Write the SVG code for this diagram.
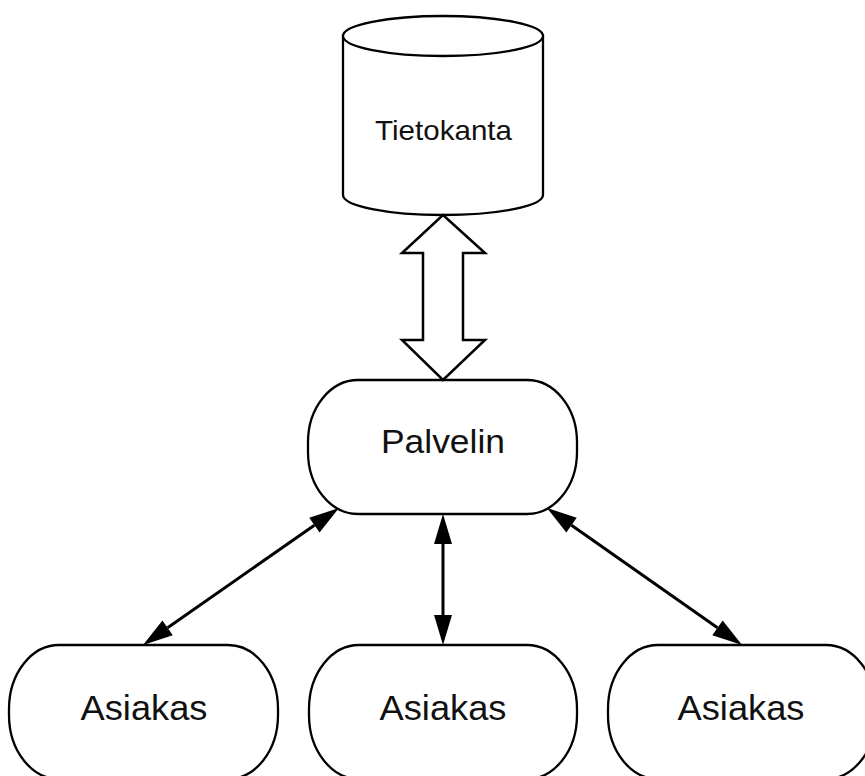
<svg xmlns="http://www.w3.org/2000/svg" width="865" height="776" viewBox="0 0 865 776">
  <style>
    .node { fill: #ffffff; stroke: #000000; stroke-width: 2.3; }
    .label { font-family: "Liberation Sans", Arial, sans-serif; fill: #111111; text-anchor: middle; }
    .link { stroke: #000000; stroke-width: 3; fill: none; marker-start: url(#head); marker-end: url(#head); }
    .bigarrow { fill: #ffffff; stroke: #000000; stroke-width: 2.5; stroke-linejoin: miter; }
  </style>
  <defs>
    <marker id="head" markerUnits="userSpaceOnUse" markerWidth="30" markerHeight="18" refX="0" refY="9" orient="auto-start-reverse" overflow="visible">
      <path d="M0,0 L30,9 L0,18 Z" fill="#000000"/>
    </marker>
  </defs>
  <rect width="865" height="776" fill="#ffffff"/>

  <!-- database -->
  <g id="tietokanta">
    <path class="node" d="M343,36 L343,195 A100,20 0 0 0 543,195 L543,36 Z"/>
    <ellipse class="node" cx="443" cy="36" rx="100" ry="20"/>
    <text class="label" x="443.5" y="140" font-size="28" textLength="137" lengthAdjust="spacingAndGlyphs">Tietokanta</text>
  </g>

  <!-- server -->
  <g id="palvelin">
    <rect class="node" x="308" y="380" width="269" height="134" rx="50" ry="62"/>
    <text class="label" x="443" y="453" font-size="33" textLength="124" lengthAdjust="spacingAndGlyphs">Palvelin</text>
  </g>

  <!-- clients -->
  <g id="asiakas-1">
    <rect class="node" x="9" y="645" width="269" height="134" rx="50" ry="64"/>
    <text class="label" x="144" y="720" font-size="35" textLength="127" lengthAdjust="spacingAndGlyphs">Asiakas</text>
  </g>
  <g id="asiakas-2">
    <rect class="node" x="309" y="645" width="268" height="134" rx="50" ry="64"/>
    <text class="label" x="443" y="720" font-size="35" textLength="127" lengthAdjust="spacingAndGlyphs">Asiakas</text>
  </g>
  <g id="asiakas-3">
    <rect class="node" x="608" y="645" width="268" height="134" rx="50" ry="64"/>
    <text class="label" x="741" y="720" font-size="35" textLength="127" lengthAdjust="spacingAndGlyphs">Asiakas</text>
  </g>

  <!-- connectors -->
  <g id="connectors">
    <polygon class="bigarrow" points="443,215 485,253 463,253 463,340 485,340 443,380 402,340 423,340 423,253 402,253"/>
    <line class="link" x1="314.4" y1="525.2" x2="167.6" y2="627.8"/>
    <line class="link" x1="443" y1="544" x2="443" y2="615"/>
    <line class="link" x1="571.5" y1="525.2" x2="717.5" y2="627.8"/>
  </g>
</svg>
